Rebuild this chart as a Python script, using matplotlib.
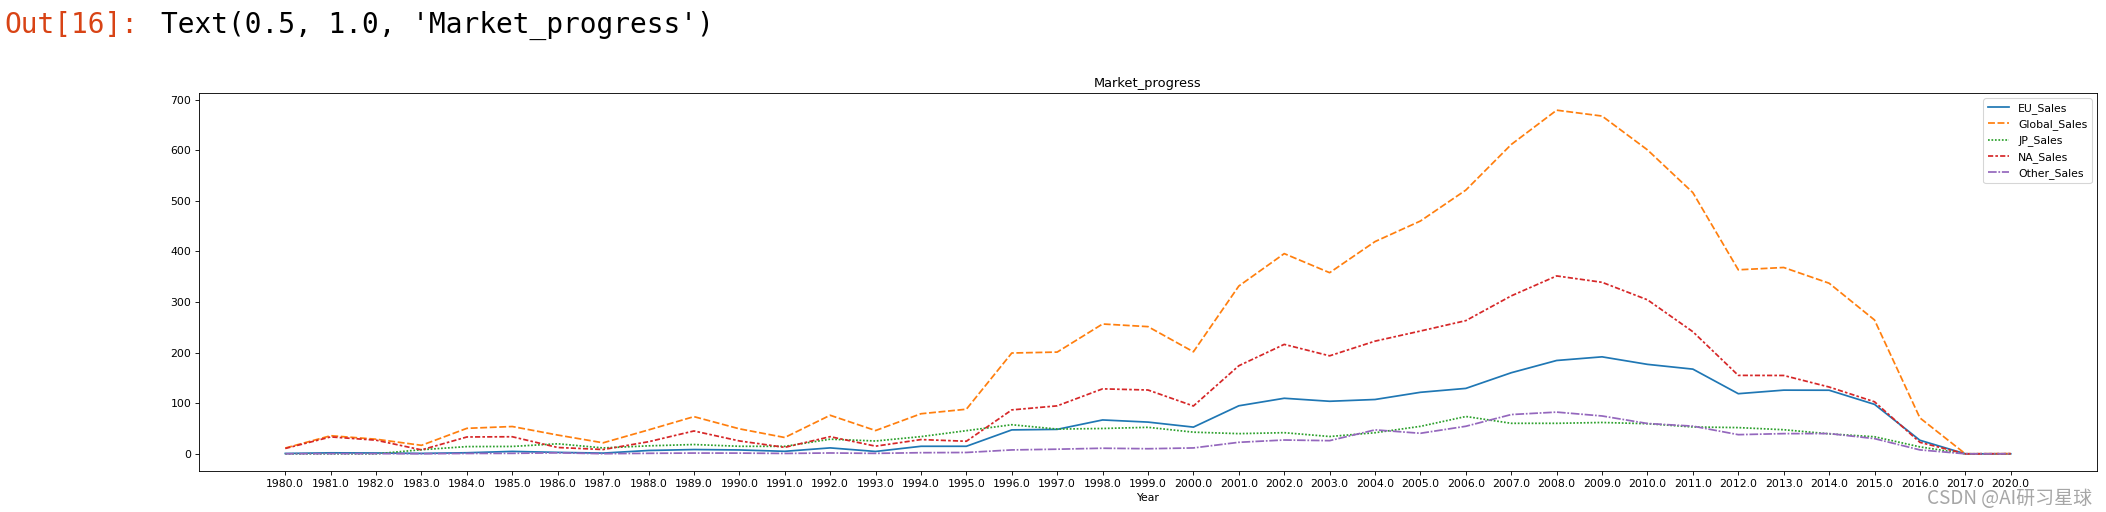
import numpy as np
import matplotlib
matplotlib.use("Agg")
import matplotlib.pyplot as plt

# yearly sales totals (millions)
years = ['1980.0', '1981.0', '1982.0', '1983.0', '1984.0', '1985.0', '1986.0', '1987.0',
         '1988.0', '1989.0', '1990.0', '1991.0', '1992.0', '1993.0', '1994.0', '1995.0',
         '1996.0', '1997.0', '1998.0', '1999.0', '2000.0', '2001.0', '2002.0', '2003.0',
         '2004.0', '2005.0', '2006.0', '2007.0', '2008.0', '2009.0', '2010.0', '2011.0',
         '2012.0', '2013.0', '2014.0', '2015.0', '2016.0', '2017.0', '2020.0']

eu_sales = [0.67, 1.96, 1.65, 0.80, 2.10, 4.74, 2.84, 1.41, 6.59, 8.44, 7.63, 4.95, 11.71,
            4.65, 14.88, 14.90, 47.26, 48.32, 66.90, 62.67, 52.75, 94.89, 109.74, 103.81,
            107.32, 121.55, 129.24, 160.18, 184.40, 191.59, 176.73, 167.31, 118.78, 125.80,
            125.65, 97.71, 26.76, 0.0, 0.0]
global_sales = [11.38, 35.77, 28.86, 16.79, 50.36, 53.94, 37.07, 21.74, 47.22, 73.45, 49.39,
                32.23, 76.16, 45.98, 79.17, 88.11, 199.15, 200.98, 256.47, 251.27, 201.56,
                331.47, 395.52, 357.85, 419.31, 459.94, 521.04, 611.13, 678.90, 667.30,
                600.45, 515.99, 363.54, 368.11, 337.05, 264.44, 70.93, 0.05, 0.29]
jp_sales = [0.0, 0.0, 0.0, 8.10, 14.27, 14.56, 19.81, 11.63, 15.76, 18.36, 14.88, 14.78, 28.91,
            25.33, 33.99, 45.75, 57.44, 48.87, 50.04, 52.34, 42.77, 39.86, 41.76, 34.20, 41.65,
            54.28, 73.73, 60.29, 60.25, 61.89, 59.49, 53.04, 51.80, 47.59, 39.46, 33.72, 13.70,
            0.05, 0.0]
na_sales = [10.59, 33.40, 26.92, 7.76, 33.28, 33.73, 12.50, 8.46, 23.87, 45.15, 25.46, 12.76,
            33.87, 15.12, 28.15, 24.82, 86.76, 94.75, 128.36, 126.06, 94.49, 173.98, 216.19,
            193.59, 222.59, 242.61, 263.12, 312.05, 351.44, 338.85, 304.24, 241.21, 154.96,
            154.77, 131.97, 102.82, 22.66, 0.0, 0.27]
other_sales = [0.12, 0.32, 0.31, 0.14, 0.70, 0.92, 1.93, 0.20, 0.99, 1.50, 1.40, 0.74, 1.65,
               0.89, 2.20, 2.64, 7.69, 9.13, 11.03, 10.05, 11.62, 22.76, 27.28, 26.01, 47.29,
               40.58, 54.43, 77.58, 82.39, 74.77, 59.89, 54.69, 37.85, 39.87, 40.02, 30.01,
               7.75, 0.0, 0.02]

series_names = ['EU_Sales', 'Global_Sales', 'JP_Sales', 'NA_Sales', 'Other_Sales']
series_values = [eu_sales, global_sales, jp_sales, na_sales, other_sales]

# seaborn-like dash styles
dash_styles = [(), (4, 1.5), (1, 1), (3, 1.25, 1.5, 1.25), (5, 1, 1, 1)]
colors = ['#1f77b4', '#ff7f0e', '#2ca02c', '#d62728', '#9467bd']

fig = plt.figure(figsize=(27, 512 / 78), dpi=78)
ax = fig.add_axes([199 / 2106, 1 - 471 / 512, (2097 - 199) / 2106, (471 - 93) / 512])

x = np.arange(len(years))
for name, vals, dash, col in zip(series_names, series_values, dash_styles, colors):
    if dash:
        ax.plot(x, vals, color=col, lw=1.6, dashes=dash, label=name)
    else:
        ax.plot(x, vals, color=col, lw=1.6, label=name)

ax.set_xticks(x)
ax.set_xticklabels(years)
ax.set_xlabel('Year')
ax.set_title('Market_progress')
ax.legend(loc='upper right')

# notebook output prompt above the figure
fig.text(4 / 2106, 1 - 33 / 512, 'Out[16]:', family='DejaVu Sans Mono', fontsize=25.7,
         color='#D84315', va='baseline', ha='left')
fig.text(161 / 2106, 1 - 33 / 512, "Text(0.5, 1.0, 'Market_progress')",
         family='DejaVu Sans Mono', fontsize=25.7, color='black', va='baseline', ha='left')

# watermark
fig.text(2092 / 2106, 1 - 498 / 512, 'CSDN @AI研习星球', family=['Noto Sans CJK SC', 'DejaVu Sans'],
         fontsize=17.5, color='#a6a6a6', va='center', ha='right')

fig.savefig('out.png', dpi=78)
